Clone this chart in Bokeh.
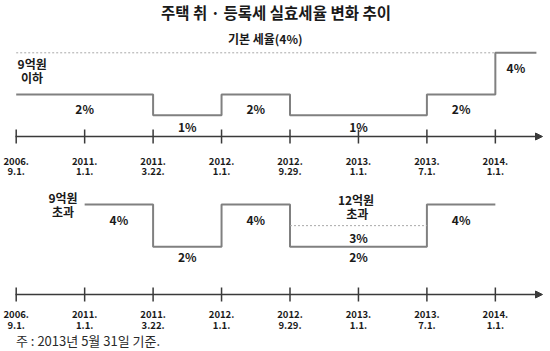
from bokeh.plotting import figure
from bokeh.models import Range1d, Arrow, NormalHead
from bokeh.core.properties import value
from bokeh.embed import file_html
from bokeh.resources import INLINE

# ---------------- data ----------------
date_year = ["2006.", "2011.", "2011.", "2012.", "2012.", "2013.", "2013.", "2014."]
date_md = ["9.1.", "1.1.", "3.22.", "1.1.", "9.29.", "1.1.", "7.1.", "1.1."]

# 9억원 이하: effective rate (%) from each change date (index into dates)
low_start = [0, 2, 3, 4, 6, 7]
low_rate = [2, 1, 2, 1, 2, 4]
low_open_end = 7.6          # 4% continues past the last date
base_rate = 4               # 기본 세율(4%)

# 9억원 초과
high_start = [1, 2, 3, 4, 6]
high_rate = [4, 2, 4, 2, 4]
high_end = 7

# 12억원 초과 (separate rate within the 2012.9.29 ~ 2013.7.1 period)
over12_start = [4]
over12_end = [6]
over12_rate = [3]

title = "주택 취 · 등록세 실효세율 변화 추이"
note = "주 : 2013년 5월 31일 기준."

# ---------------- layout / style ----------------
FONT = value("Noto Sans CJK KR")
LINE = "#808080"
AXIS = "#3a3a3a"
TXT = "#1a1a1a"
W, H = 550, 351
X0, DX = 15.7, 68.45   # pixel of first date, pixel spacing between dates

p = figure(width=W, height=H, output_backend="svg", toolbar_location=None,
           x_axis_type=None, y_axis_type=None, min_border=0,
           x_range=Range1d(-X0 / DX, (W - X0) / DX),
           y_range=Range1d(-(H - 135.5) / 20.8, 135.5 / 20.8))
p.outline_line_color = None
p.grid.visible = False
p.background_fill_color = "white"
p.border_fill_color = "white"
p.extra_y_ranges = {
    "bot": Range1d(-(H - 288.6) / 21.15, 288.6 / 21.15),
    "px": Range1d(H, 0),
}
p.extra_x_ranges = {"px": Range1d(0, W)}

idx = list(range(len(date_year)))

# ---- axes (two timelines) ----
for ax_y, lab_y in [(136, 160.7), (294, 314.3)]:
    p.add_layout(Arrow(end=NormalHead(size=7, fill_color=AXIS, line_color=AXIS),
                       x_start=-0.01, x_end=(542 - X0) / DX, y_start=ax_y, y_end=ax_y,
                       y_range_name="px", line_color=AXIS, line_width=1.5))
    p.segment(x0=idx, x1=idx, y0=[ax_y - 7] * len(idx), y1=[ax_y + 7] * len(idx),
              y_range_name="px", line_color=AXIS, line_width=1.5)
    p.text(x=idx, y=[lab_y] * len(idx), text=date_year, y_range_name="px",
           text_font=FONT, text_font_style="bold", text_font_size="9.5px",
           text_align="center", text_baseline="middle", text_color=TXT)
    p.text(x=idx, y=[lab_y + 10.5] * len(idx), text=date_md, y_range_name="px",
           text_font=FONT, text_font_style="bold", text_font_size="9.5px",
           text_align="center", text_baseline="middle", text_color=TXT)

# ---- 9억원 이하 ----
p.line(x=[low_start[0], low_start[-1]], y=[base_rate, base_rate],
       line_color="#a8a8a8", line_width=1, line_dash="2 2")
p.step(x=low_start + [low_open_end], y=low_rate + [low_rate[-1]], mode="after",
       line_color=LINE, line_width=2)
low_ends = low_start[1:] + [low_open_end]
low_dy = [14, 11, 14, 11, 14, 14.5]
for s, e, r, dy in zip(low_start, low_ends, low_rate, low_dy):
    p.text(x=[(s + e) / 2], y=[r], y_offset=dy, text=[f"{r}%"],
           text_font=FONT, text_font_style="bold", text_font_size="12px",
           text_align="center", text_baseline="middle", text_color=TXT)

# ---- 9억원 초과 ----
p.step(x=high_start + [high_end], y=high_rate + [high_rate[-1]], mode="after",
       y_range_name="bot", line_color=LINE, line_width=2)
high_ends = high_start[1:] + [high_end]
high_dy = [15, 10, 15, 10, 15]
for s, e, r, dy in zip(high_start, high_ends, high_rate, high_dy):
    p.text(x=[(s + e) / 2], y=[r], y_offset=dy, text=[f"{r}%"], y_range_name="bot",
           text_font=FONT, text_font_style="bold", text_font_size="12px",
           text_align="center", text_baseline="middle", text_color=TXT)

# ---- 12억원 초과 ----
p.segment(x0=over12_start, x1=over12_end, y0=over12_rate, y1=over12_rate,
          y_range_name="bot", line_color="#a8a8a8", line_width=1, line_dash="2 2")
for s, e, r in zip(over12_start, over12_end, over12_rate):
    p.text(x=[(s + e) / 2], y=[r], y_offset=11.5, text=[f"{r}%"], y_range_name="bot",
           text_font=FONT, text_font_style="bold", text_font_size="12px",
           text_align="center", text_baseline="middle", text_color=TXT)

# ---- captions ----
def cap(x, y, t, size="12px", style="bold", align="center", color=TXT):
    p.text(x=[x], y=[y], text=[t], x_range_name="px", y_range_name="px",
           text_font=FONT, text_font_style=style, text_font_size=size,
           text_align=align, text_baseline="middle", text_color=color)

cap(275.5, 11.5, title, size="15.5px")
cap(264.7, 38.3, "기본 세율(4%)")
cap(31.7, 62.7, "9억원")
cap(31.5, 76.5, "이하")
cap(62.5, 196.7, "9억원")
cap(62.5, 210.5, "초과")
cap(355.5, 199, "12억원")
cap(356.7, 213, "초과")
cap(15.5, 339.5, note, size="13px", style="normal", align="left", color="#2a2a2a")

open("out.html", "w").write(file_html(p, INLINE))
